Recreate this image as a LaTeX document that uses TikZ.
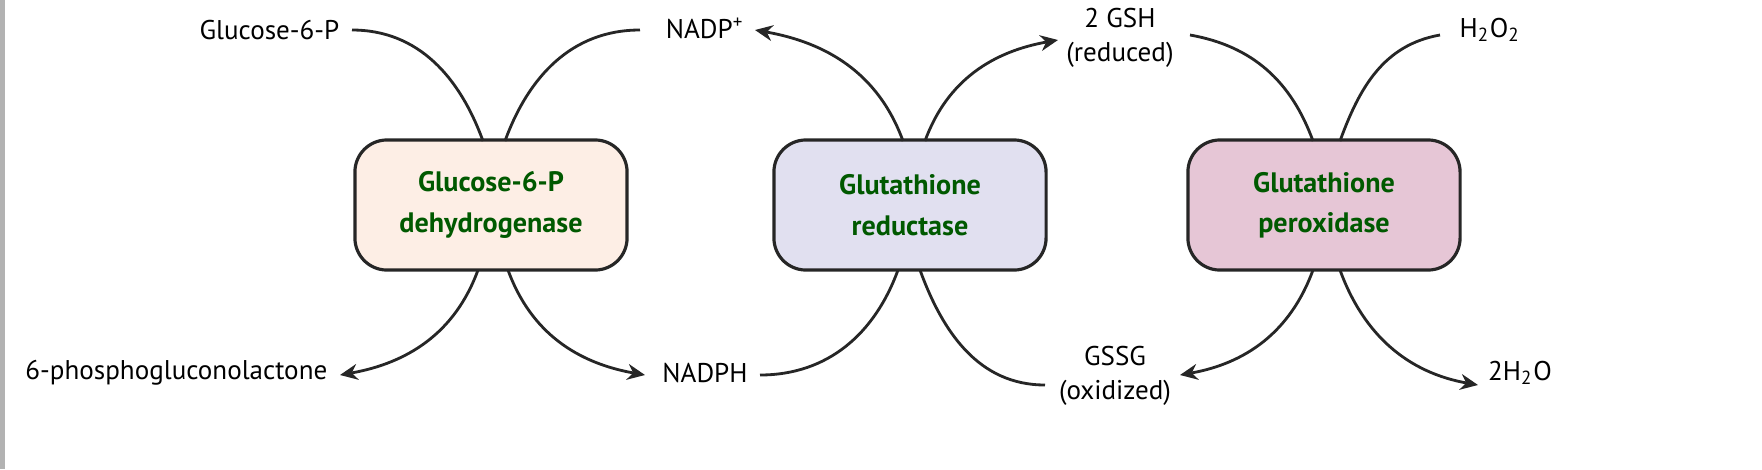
\documentclass[tikz,border=0pt]{standalone}
\usepackage{fontspec}
\setmainfont{PT Sans}
\usetikzlibrary{arrows.meta}
\begin{document}
\begin{tikzpicture}[x=0.01cm,y=-0.01cm,
  lbl/.style={font=\fontsize{7.7pt}{9.5pt}\selectfont,inner sep=0pt,align=center},
  enz/.style={draw=black!85,line width=0.9pt,rounded corners=0.32cm,minimum width=2.72cm,minimum height=1.3cm,align=center,font=\fontsize{8pt}{11.5pt}\selectfont\bfseries,text=green!35!black},
  ln/.style={line width=0.8pt,black!85},
  ar/.style={ln,-{Stealth[length=5pt,width=4.5pt]}}]
\useasboundingbox (0,0) rectangle (1762,469);
\draw[gray!60,line width=2pt] (1,0) -- (1,469);
\node[enz,fill={rgb,255:red,253;green,238;blue,229}] (b1) at (491,205) {Glucose-6-P\\dehydrogenase};
\node[enz,fill={rgb,255:red,225;green,224;blue,240}] (b2) at (910,205) {Glutathione\\reductase};
\node[enz,fill={rgb,255:red,230;green,198;blue,214}] (b3) at (1324,205) {Glutathione\\peroxidase};
\node[lbl,anchor=east] (g6p) at (340,30) {Glucose-6-P};
\node[lbl] (nadp) at (705,28) {NADP\textsuperscript{+}};
\node[lbl] (gsh) at (1120,38) {2 GSH\\(reduced)};
\node[lbl] (h2o2) at (1490,30) {H\textsubscript{2}O\textsubscript{2}};
\node[lbl,anchor=east] (pgl) at (328,373) {6-phosphogluconolactone};
\node[lbl] (nadph) at (705,373) {NADPH};
\node[lbl] (gssg) at (1115,376) {GSSG\\(oxidized)};
\node[lbl] (h2o) at (1520,373) {2H\textsubscript{2}O};
\coordinate (t1a) at (483,141); \coordinate (t1b) at (505,141);
\coordinate (t2a) at (903,141); \coordinate (t2b) at (925,141);
\coordinate (t3a) at (1313,141); \coordinate (t3b) at (1340,141);
\coordinate (u1a) at (478,270); \coordinate (u1b) at (508,270);
\coordinate (u2a) at (898,270); \coordinate (u2b) at (920,270);
\coordinate (u3a) at (1313,270); \coordinate (u3b) at (1340,270);
\draw[ln] (352,30) to[out=0,in=110] (t1a);
\draw[ln] (t1b) to[out=70,in=180] (640,30);
\draw[ar] (t2a) to[out=110,in=-10] (755,30);
\draw[ar] (t2b) to[out=70,in=190] (1058,40);
\draw[ln] (1190,35) to[out=-10,in=110] (t3a);
\draw[ln] (t3b) to[out=70,in=190] (1440,35);
\draw[ar] (u1a) to[out=-110,in=10] (340,375);
\draw[ar] (u1b) to[out=-70,in=170] (645,375);
\draw[ln] (760,375) to[out=0,in=-110] (u2a);
\draw[ln] (u2b) to[out=-70,in=180] (1045,385);
\draw[ar] (u3a) to[out=-110,in=10] (1180,375);
\draw[ar] (u3b) to[out=-70,in=170] (1478,385);
\end{tikzpicture}
\end{document}
